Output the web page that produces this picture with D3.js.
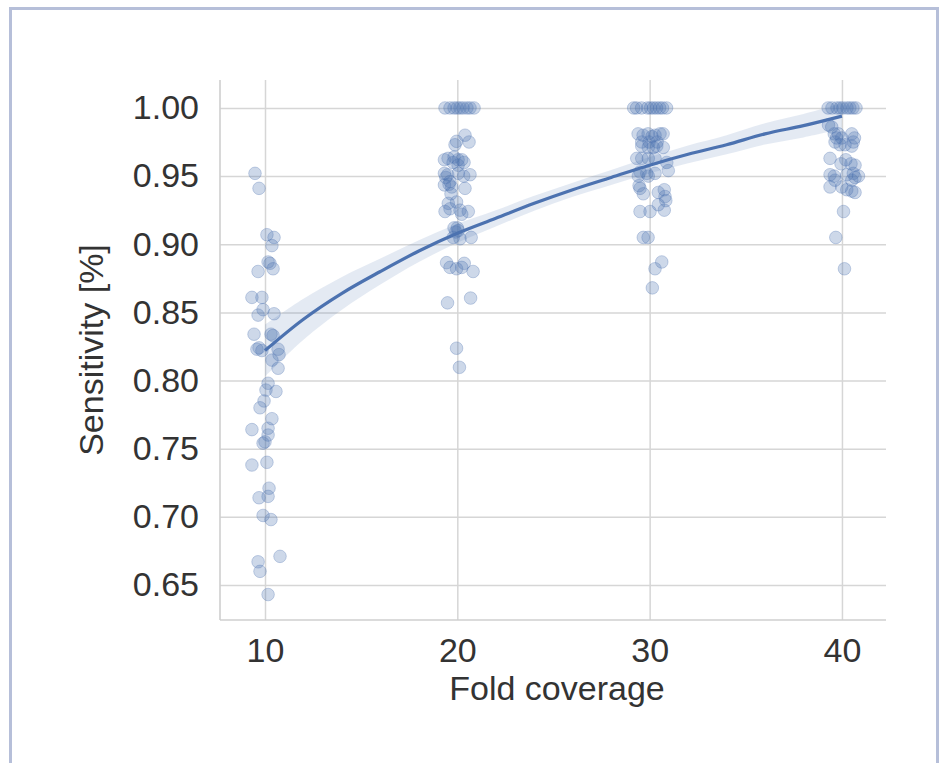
<!DOCTYPE html>
<html><head><meta charset="utf-8">
<script src="https://cdn.jsdelivr.net/npm/d3@7/dist/d3.min.js"></script>
<style>
body{margin:0;background:#fff}
svg{display:block}
text{font-family:"Liberation Sans",Arial,sans-serif}
</style>
</head><body>
<svg id="chart" width="944" height="763"></svg>
<script>
// ---- data ----
const xTicks = [10, 20, 30, 40];
const yTicks = [0.65, 0.70, 0.75, 0.80, 0.85, 0.90, 0.95, 1.00];
const xLabel = "Fold coverage";
const yLabel = "Sensitivity [%]";

// jittered fold coverage (x) and sensitivity (y) for each coverage group
const cov10X = [9.48,9.69,10.10,10.47,10.36,10.16,10.26,10.42,9.64,9.32,9.84,9.90,9.64,10.47,9.43,10.31,10.42,9.58,9.69,9.84,10.68,10.73,10.36,10.68,10.16,10.57,10.05,9.95,9.74,10.36,9.32,10.16,10.16,10.00,9.90,9.32,10.10,10.21,10.16,9.69,9.90,10.31,10.78,9.64,9.74,10.16];
const cov10Y = [0.952,0.941,0.907,0.905,0.899,0.887,0.886,0.882,0.880,0.861,0.861,0.852,0.848,0.849,0.834,0.834,0.833,0.823,0.824,0.822,0.823,0.819,0.815,0.809,0.798,0.792,0.793,0.785,0.780,0.772,0.764,0.765,0.760,0.755,0.754,0.738,0.740,0.721,0.715,0.714,0.701,0.698,0.671,0.667,0.660,0.643];

const cov20X = [19.36,19.62,19.83,19.99,20.14,20.30,20.50,20.66,20.87,20.40,19.96,20.61,19.88,19.33,19.52,19.83,20.04,20.23,20.35,20.04,19.78,19.33,19.50,19.40,20.05,20.33,20.66,19.62,19.33,19.57,19.71,20.40,19.67,19.53,19.96,19.36,19.62,20.14,20.23,20.57,19.83,20.00,19.92,20.05,19.79,20.14,20.72,19.44,19.62,19.96,20.36,20.23,20.82,19.49,20.69,19.96,20.11];
const cov20Y = [1.000,1.000,1.000,1.000,1.000,1.000,1.000,1.000,1.000,0.980,0.9755,0.975,0.973,0.962,0.963,0.964,0.962,0.962,0.960,0.958,0.960,0.952,0.951,0.949,0.952,0.950,0.951,0.946,0.9435,0.944,0.942,0.941,0.937,0.930,0.931,0.924,0.926,0.925,0.922,0.924,0.912,0.912,0.909,0.910,0.905,0.904,0.905,0.8865,0.883,0.882,0.886,0.883,0.880,0.857,0.8605,0.8237,0.8097];

const cov30X = [29.17,29.32,29.58,29.89,30.05,30.20,30.36,30.52,30.67,30.88,29.40,29.66,29.92,30.12,30.28,30.54,30.70,29.59,29.97,30.39,29.59,29.93,30.19,30.37,30.71,29.33,29.59,29.93,30.28,30.89,29.50,29.85,30.97,30.28,29.41,29.93,29.45,29.50,29.67,30.45,30.76,30.80,30.84,30.45,30.76,29.50,30.02,29.67,29.92,30.63,30.28,30.14];
const cov30Y = [1.000,1.000,1.000,1.000,1.000,1.000,1.000,1.000,1.000,1.000,0.981,0.980,0.981,0.979,0.980,0.981,0.981,0.975,0.975,0.975,0.972,0.971,0.971,0.972,0.971,0.963,0.963,0.963,0.963,0.960,0.953,0.952,0.954,0.952,0.950,0.950,0.943,0.941,0.937,0.938,0.940,0.935,0.932,0.929,0.925,0.924,0.924,0.905,0.905,0.887,0.882,0.868];

const cov40X = [39.28,39.48,39.74,39.90,40.05,40.26,40.41,40.57,40.73,39.30,39.47,39.60,39.81,39.72,39.99,40.51,40.65,39.64,39.90,40.16,40.59,40.51,39.38,39.95,40.20,40.47,40.68,39.60,39.38,40.25,40.59,40.86,39.64,40.51,40.68,39.38,39.99,40.25,40.51,40.68,40.08,39.68,40.13];
const cov40Y = [1.000,1.000,1.000,1.000,1.000,1.000,1.000,1.000,1.000,0.9875,0.986,0.981,0.981,0.978,0.978,0.981,0.978,0.975,0.973,0.973,0.975,0.972,0.963,0.959,0.962,0.959,0.958,0.950,0.951,0.951,0.952,0.950,0.947,0.947,0.949,0.942,0.942,0.940,0.939,0.938,0.924,0.905,0.882];

// fitted regression curve and its confidence band half-width
const fitX = [10,12,14,16,18,20,22,24,26,28,30,32,34,36,38,40];
const fitY = [0.822,0.845,0.864,0.880,0.895,0.908,0.919,0.930,0.940,0.949,0.958,0.966,0.973,0.981,0.987,0.994];
const fitHalfCI = [0.019,0.015,0.012,0.0095,0.008,0.007,0.006,0.0055,0.0052,0.0055,0.006,0.0065,0.007,0.0078,0.0086,0.0095];

// ---- drawing ----
const svg = d3.select("#chart");
const W = 944, H = 763;
const L = 220, R = 886, T = 80, B = 620;
const blue = "#4c72b0";
const gridC = "#d6d6d6";
const textC = "#333333";
const fs = 34;

svg.append("rect").attr("width", W).attr("height", H).attr("fill", "#fff");
svg.append("rect").attr("x", 10.5).attr("y", 8.5).attr("width", 927).attr("height", 800)
  .attr("fill", "none").attr("stroke", "#b6bfd9").attr("stroke-width", 3);

const x = d3.scaleLinear().domain([7.66, 42.29]).range([L, R]);
const y = d3.scaleLinear().domain([0.6243, 1.0205]).range([B, T]);

// y grid + labels
const ya = svg.append("g").attr("transform", `translate(${L},0)`)
  .call(d3.axisLeft(y).tickValues(yTicks).tickFormat(d3.format(".2f")).tickSize(-(R - L)).tickPadding(21));
ya.select(".domain").remove();
ya.selectAll(".tick line").attr("stroke", gridC).attr("stroke-width", 1.5);
ya.selectAll(".tick text").attr("fill", textC).attr("font-size", fs).attr("font-family", '"Liberation Sans",Arial,sans-serif');

// x grid + labels
const xa = svg.append("g").attr("transform", `translate(0,${B})`)
  .call(d3.axisBottom(x).tickValues(xTicks).tickFormat(d3.format("d")).tickSize(-(B - T)).tickPadding(18));
xa.select(".domain").remove();
xa.selectAll(".tick line").attr("stroke", gridC).attr("stroke-width", 1.5);
xa.selectAll(".tick text").attr("fill", textC).attr("font-size", fs).attr("font-family", '"Liberation Sans",Arial,sans-serif');

// spines
svg.append("line").attr("x1", L).attr("x2", L).attr("y1", T).attr("y2", B)
  .attr("stroke", "#cfcfcf").attr("stroke-width", 1.6);
svg.append("line").attr("x1", L).attr("x2", R).attr("y1", B).attr("y2", B)
  .attr("stroke", "#cfcfcf").attr("stroke-width", 1.6);

// points
const groups = [[cov10X, cov10Y], [cov20X, cov20Y], [cov30X, cov30Y], [cov40X, cov40Y]];
const pts = [];
groups.forEach(([xs, ys]) => xs.forEach((v, i) => pts.push([v, ys[i]])));
svg.append("g").selectAll("circle").data(pts).join("circle")
  .attr("cx", d => x(d[0])).attr("cy", d => y(d[1])).attr("r", 6.3)
  .attr("fill", blue).attr("fill-opacity", 0.28)
  .attr("stroke", blue).attr("stroke-opacity", 0.3).attr("stroke-width", 1);

// CI band and fit line
const fit = fitX.map((v, i) => ({x: v, y: fitY[i], h: fitHalfCI[i]}));
svg.append("path").datum(fit)
  .attr("d", d3.area().curve(d3.curveCatmullRom).x(d => x(d.x)).y0(d => y(d.y - d.h)).y1(d => y(d.y + d.h)))
  .attr("fill", blue).attr("fill-opacity", 0.15);
svg.append("path").datum(fit)
  .attr("d", d3.line().curve(d3.curveCatmullRom).x(d => x(d.x)).y(d => y(d.y)))
  .attr("fill", "none").attr("stroke", blue).attr("stroke-width", 3.2);

// axis titles
svg.append("text").attr("x", (L + R) / 2 + 4).attr("y", 700).attr("text-anchor", "middle")
  .attr("font-size", fs).attr("fill", textC).text(xLabel);
svg.append("text").attr("transform", `translate(103,${(T + B) / 2}) rotate(-90)`).attr("text-anchor", "middle")
  .attr("font-size", fs).attr("fill", textC).text(yLabel);
</script>
</body></html>
